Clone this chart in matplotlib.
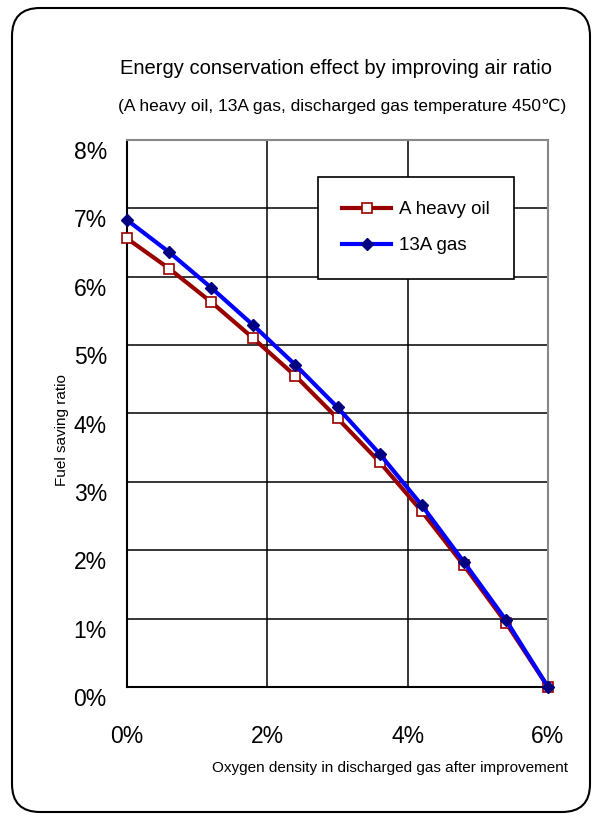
import matplotlib
matplotlib.use("Agg")
import matplotlib.pyplot as plt
from matplotlib.patches import FancyBboxPatch
from matplotlib.ticker import FuncFormatter
from matplotlib.transforms import ScaledTranslation

# oxygen density after improvement (%)
oxygen = [0.0, 0.6, 1.2, 1.8, 2.4, 3.0, 3.6, 4.2, 4.8, 5.4, 6.0]
# fuel saving ratio (%)
heavy_oil = [6.56, 6.12, 5.63, 5.10, 4.55, 3.93, 3.29, 2.57, 1.78, 0.94, 0.0]
gas_13a = [6.83, 6.36, 5.84, 5.29, 4.71, 4.09, 3.41, 2.66, 1.83, 0.98, 0.0]

x_ticks = [0, 2, 4, 6]
y_ticks = [0, 1, 2, 3, 4, 5, 6, 7, 8]

plt.rcParams['font.family'] = ['Liberation Sans', 'DejaVu Sans']

fig = plt.figure(figsize=(6, 8.21), dpi=100)

# rounded frame round the whole chart
bg = fig.add_axes([0, 0, 1, 1], zorder=-1)
bg.set_xlim(0, 600)
bg.set_ylim(821, 0)
bg.axis("off")
bg.add_patch(FancyBboxPatch((12, 8), 578, 804, boxstyle="round,pad=0,rounding_size=28",
                            fc="white", ec="black", lw=1.5))

ax = fig.add_axes([127 / 600, 1 - 687 / 821, 421 / 600, 547 / 821])
ax.plot(oxygen, heavy_oil, color="#990000", lw=3, marker="s", ms=7,
        mfc="white", mec="#990000", mew=1.2, label="A heavy oil", zorder=3, clip_on=False)
ax.plot(oxygen, gas_13a, color="#0000ff", lw=3, marker="D", ms=6,
        mfc="#000080", mec="#000080", label="13A gas", zorder=4, clip_on=False)

ax.set_xlim(0, 6)
ax.set_ylim(0, 8)
ax.set_xticks(x_ticks)
ax.set_yticks(y_ticks)
ax.xaxis.set_major_formatter(FuncFormatter(lambda v, p: f"{v:.0f}%"))
ax.yaxis.set_major_formatter(FuncFormatter(lambda v, p: f"{v:.0f}%"))
ax.tick_params(axis="both", length=0, labelsize=16.5)
ax.tick_params(axis="x", pad=27)
ax.tick_params(axis="y", pad=14.5)
# y labels sit a little below their grid lines in the original
shift = ScaledTranslation(0, -10 / 100, fig.dpi_scale_trans)
for lab in ax.get_yticklabels():
    lab.set_transform(lab.get_transform() + shift)
ax.grid(True, color="black", lw=1.1)
for side in ["left", "bottom"]:
    ax.spines[side].set_color("black")
    ax.spines[side].set_linewidth(1.5)
for side in ["top", "right"]:
    ax.spines[side].set_color("#888888")
    ax.spines[side].set_linewidth(1.5)

leg = ax.legend(loc="upper left", bbox_to_anchor=(191 / 421, 1 - 37 / 547), borderaxespad=0,
                fontsize=13.5, frameon=True, fancybox=False, edgecolor="black", framealpha=1,
                handlelength=2.6, handletextpad=0.4, borderpad=1.3, labelspacing=1.0)
leg.get_frame().set_linewidth(1.2)

fig.text(336 / 600, 1 - 68 / 821, "Energy conservation effect by improving air ratio",
         ha="center", va="center", fontsize=14.5)
fig.text(342 / 600, 1 - 106 / 821,
         "(A heavy oil, 13A gas, discharged gas temperature 450\u2103)",
         ha="center", va="center", fontsize=12.5)
fig.text(62 / 600, 1 - 430 / 821, "Fuel saving ratio", rotation=90,
         ha="center", va="center", fontsize=11)
fig.text(568 / 600, 1 - 768 / 821, "Oxygen density in discharged gas after improvement",
         ha="right", va="center", fontsize=11)

fig.savefig("out.png", dpi=100)
